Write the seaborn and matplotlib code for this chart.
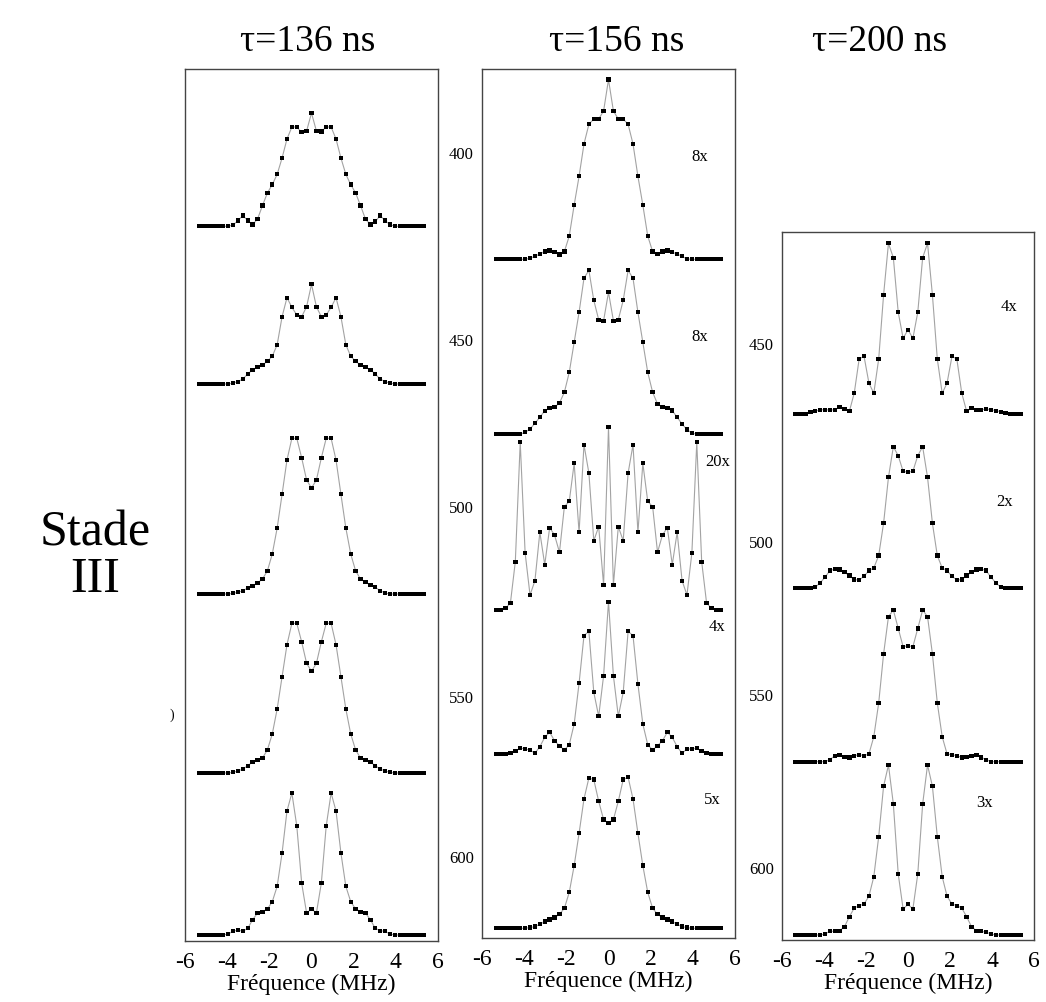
import numpy as np
import pandas as pd
import seaborn as sns
import matplotlib.pyplot as plt
from matplotlib.ticker import MultipleLocator

# frequency grid (MHz), 47 points per spectrum
freq = np.linspace(-5.35, 5.35, 47)

titles = ['τ=136 ns', 'τ=156 ns', 'τ=200 ns']

# tau = 136 ns, spectra top to bottom (intensity, arb. units)
p1_s1 = [0, 0, 0, 0, 0, 0, 0, 1.3, 5.7, 10.7, 5.7, 1.7, 7.3, 20.7, 33.3, 41.7, 52, 68.3, 87.3, 99.3, 99.3, 94, 95.3,
         113.3, 95.3, 94.7, 99.3, 99.3, 87.3, 68.3, 52, 41.7, 33.3, 20.7, 7.3, 1.7, 4.7, 10.7, 5.7, 1.7, 0, 0, 0, 0, 0, 0, 0]
p1_s2 = [0, 0, 0, 0, 0, 0, 0, 1, 2.3, 5, 10, 14.3, 16.7, 19, 22.7, 27.7, 39.3, 67.3, 86.3, 76.7, 69, 67.3, 77.3,
         99.7, 77.3, 67.3, 69, 76.7, 86.3, 67.3, 39.3, 27.7, 22.7, 19, 16.7, 14.3, 10, 5, 2.3, 1, 0, 0, 0, 0, 0, 0, 0]
p1_s3 = [0, 0, 0, 0, 0, 0, 0, 0.7, 1.7, 3.3, 6, 8.3, 11, 15, 23, 40, 66, 99.7, 134, 155.7, 155.7, 136, 114,
         106, 114, 136, 155.7, 155.7, 134, 99.7, 66, 40, 23, 15, 11.7, 9, 6.7, 3.3, 1, 0, 0, 0, 0, 0, 0, 0, 0]
p1_s4 = [0, 0, 0, 0, 0, 0, 0, 0.7, 2, 4, 7.3, 11, 13, 15, 23, 39, 64, 96.3, 128.3, 149.7, 149.7, 131, 109.7,
         101.7, 109.7, 131, 149.7, 149.7, 128.3, 96.3, 64, 39, 23, 15, 13, 11, 7.3, 4, 2, 0.7, 0, 0, 0, 0, 0, 0, 0]
p1_s5 = [0, 0, 0, 0, 0, 0, 1, 3.7, 5, 3.7, 6.7, 15.3, 22, 23.3, 26, 33.3, 48.7, 82, 124, 142, 109, 51.7, 22,
         26, 22, 51.7, 109, 142, 124, 82, 48.7, 33.3, 26, 23.3, 22, 15.3, 6.7, 4.3, 3.7, 1, 0, 0, 0, 0, 0, 0, 0]

# tau = 156 ns
p2_s1 = [0, 0, 0, 0, 0, 0, 0, 1, 3, 5.3, 7.7, 8.7, 7, 4.7, 7.7, 23.3, 54.3, 83, 115.3, 135, 140.3, 140.3, 148.3,
         179.7, 148.3, 140.3, 140.3, 135, 115.3, 83, 54.3, 23.3, 7.7, 5.3, 7.7, 8.7, 7, 5.3, 3, 0.3, 0, 0, 0, 0, 0, 0, 0]
p2_s2 = [0, 0, 0, 0, 0, 0, 2, 5.3, 11, 17, 23.6, 26, 27, 31.3, 42, 62, 92, 122, 156, 164, 134, 114.6, 113.6,
         142, 113.6, 114.6, 134, 164, 156, 122, 92, 62, 42, 30.3, 27, 26, 23.7, 17, 10.3, 4.7, 1.3, 0, 0, 0, 0, 0, 0]
p2_s3 = [0, 0, 1.7, 7, 48.3, 167.7, 57, 15, 29.3, 77.7, 45.3, 82.3, 75, 57.7, 103.3, 108.7, 146.7, 77.7, 165.3, 137,
         69.3, 83.3, 25, 182.7, 25, 83.3, 69.3, 137, 165.3, 77.7, 146.7, 108.7, 103.3, 57.7, 75, 82.3, 45.3, 77.7,
         29.3, 15, 57, 167.7, 48.3, 7, 1.7, 0, 0]
p2_s4 = [0, 0, 0, 0.7, 2.7, 6, 5, 4, 0.7, 7.3, 16.7, 21.7, 13.3, 8.3, 4, 9.3, 30, 70.7, 118.3, 122.7, 61.7, 37.7, 78.3,
         152.3, 78.3, 37.7, 61.7, 122.7, 118.3, 70, 30, 9.3, 4, 8.3, 13.3, 21.7, 16.7, 7.3, 0.7, 5, 5, 5.7, 2.7, 0.7,
         0, 0, 0]
p2_s5 = [0, 0, 0, 0, 0, 0, 0, 0.7, 1.7, 4, 6.7, 8.7, 10.7, 14, 20, 36, 62.7, 95, 129.3, 150.3, 148.7, 127, 108.7,
         105.3, 108.7, 127, 148.7, 151, 129.3, 95, 62.7, 36, 20, 14, 10.7, 8.7, 6.7, 4, 1.7, 0.7, 0, 0, 0, 0, 0, 0, 0]

# tau = 200 ns
p3_s1 = [0, 0, 0, 1.7, 2.7, 4.3, 4.3, 4, 4.3, 6.7, 5, 2.7, 21, 55, 57.7, 31, 20.7, 55, 119, 170.7, 156.3, 101.7, 75.7,
         84.3, 75.7, 101.7, 156.3, 170.7, 119, 55, 20.7, 31, 57.7, 55, 21, 2.7, 6, 4, 4.3, 5, 4.3, 3.3, 2.3, 1, 0, 0, 0]
p3_s2 = [0, 0, 0, 0, 1, 5.3, 11, 17.7, 19.3, 18.7, 16, 12.7, 8.7, 8.3, 12, 17.7, 20.3, 32.7, 65, 111, 141.6, 132.6,
         117, 116, 117, 132.6, 141.6, 111, 65, 32.7, 20.3, 17.7, 12, 8.3, 8.7, 12.7, 16, 18.7, 19.3, 17.7, 11, 5.3, 1,
         0, 0, 0, 0]
p3_s3 = [0, 0, 0, 0, 0, 0, 0, 2, 6, 6.7, 5, 4.3, 6, 7, 6, 7.7, 25, 58.7, 107.7, 145, 151.7, 133.3, 115,
         116, 115, 133.3, 151.7, 145, 107.7, 58.7, 25, 7.7, 7, 6, 4.3, 5, 6, 6.7, 4.3, 2, 0, 0, 0, 0, 0, 0, 0]
p3_s4 = [0, 0, 0, 0, 0, 0, 1, 3.7, 3.7, 4.3, 8.3, 18.3, 27, 29.3, 31, 38.7, 58.3, 98.3, 148.7, 170, 131, 61, 26,
         30.7, 26, 61, 131, 170, 148.7, 98.3, 58.3, 38.7, 31, 29.3, 27, 18.3, 8.3, 4.3, 3.7, 2.7, 1, 0, 0, 0, 0, 0, 0]

p2_labels = ['400', '450', '500', '550', '600']
p2_gain = ['8x', '8x', '20x', '4x', '5x']
p3_labels = ['450', '500', '550', '600']
p3_gain = ['4x', '2x', '', '3x']

# ---- layout (pixels) ----
W, H = 1046, 1003
panels = [
    dict(box=(185, 70, 253, 872), spectra=[p1_s1, p1_s2, p1_s3, p1_s4, p1_s5],
         base=[714.7, 557, 347, 168, 6], ticks=[], labels=[], gain=[], gain_xy=[]),
    dict(box=(482, 70, 253, 869), spectra=[p2_s1, p2_s2, p2_s3, p2_s4, p2_s5],
         base=[678.7, 503.7, 328, 184, 9.7], ticks=[786, 599, 432, 242, 82], labels=p2_labels,
         gain=p2_gain, gain_xy=[(4.34, 782), (4.34, 602), (5.2, 477), (5.15, 312), (4.91, 139)]),
    dict(box=(782, 233, 252, 708), spectra=[p3_s1, p3_s2, p3_s3, p3_s4],
         base=[526, 351.7, 178.3, 5], ticks=[597, 399, 246, 73], labels=p3_labels,
         gain=p3_gain, gain_xy=[(4.83, 634), (4.59, 439), (0, 0), (3.64, 138)]),
]

sns.set_style("white")
plt.rcParams['font.family'] = ['Liberation Serif', 'DejaVu Serif']
plt.rcParams['axes.unicode_minus'] = False
plt.rcParams['text.color'] = 'black'
plt.rcParams['xtick.color'] = '#444444'
plt.rcParams['xtick.labelcolor'] = 'black'
plt.rcParams['ytick.labelcolor'] = 'black'
plt.rcParams['axes.labelcolor'] = 'black'

fig = plt.figure(figsize=(W / 100, H / 100), dpi=100)

for k, p in enumerate(panels):
    x0, top, w, h = p['box']
    ax = fig.add_axes([x0 / W, 1 - (top + h) / H, w / W, h / H])
    for spec, b in zip(p['spectra'], p['base']):
        df = pd.DataFrame({'f': freq, 'y': b + np.array(spec)})
        sns.lineplot(data=df, x='f', y='y', color='#a3a3a3', lw=0.8, sort=False, ax=ax)
        sns.scatterplot(data=df, x='f', y='y', marker='s', s=10, color='black', edgecolor='none', ax=ax, zorder=3)
    ax.set_xlim(-6, 6)
    ax.set_ylim(0, h)
    ax.set_xticks(range(-6, 7, 2))
    ax.xaxis.set_minor_locator(MultipleLocator(1))
    ax.tick_params(axis='x', which='major', direction='in', length=4, width=0.8, labelsize=17, pad=7)
    ax.tick_params(axis='x', which='minor', direction='in', length=2.5, width=0.6)
    ax.set_yticks(p['ticks'])
    ax.set_yticklabels(p['labels'])
    ax.tick_params(axis='y', length=0, labelsize=12, pad=6)
    ax.set_xlabel('Fréquence (MHz)', fontsize=17, labelpad=1)
    ax.set_ylabel('')
    for s in ax.spines.values():
        s.set_visible(True)
        s.set_color('#444444')
        s.set_linewidth(1.0)
    for g, (gx, gy) in zip(p['gain'], p['gain_xy']):
        if g:
            ax.text(gx, gy, g, fontsize=12, ha='center', va='center')

for t, cx in zip(titles, [308, 617, 880]):
    fig.text(cx / W, 1 - 42 / H, t, fontsize=27, ha='center', va='center')

fig.text(95 / W, 1 - 556 / H, 'Stade\nIII', fontsize=36, ha='center', va='center', linespacing=1.0)
fig.text(172 / W, 1 - 715 / H, ')', fontsize=10, ha='center', va='center')

fig.savefig('out.png', dpi=100)
